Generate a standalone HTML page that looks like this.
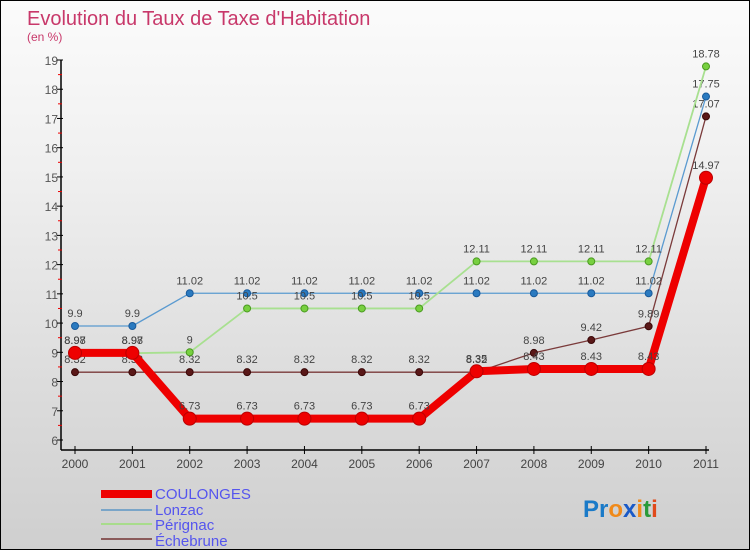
<!DOCTYPE html>
<html><head><meta charset="utf-8"><style>
html,body{margin:0;padding:0}
body{width:750px;height:550px;overflow:hidden;font-family:"Liberation Sans",sans-serif}
#wrap{position:relative;width:748px;height:548px;border:1px solid #000;background:linear-gradient(#fbfbfb,#f0f0f0 30%,#dcdcdc 70%,#cfcfcf)}
</style></head><body>
<div id="wrap">
<svg id="chart" width="748" height="548">
<text x="26" y="24" font-size="20" fill="#c8386a">Evolution du Taux de Taxe d'Habitation</text>
<text x="26" y="40" font-size="12" fill="#c8386a">(en %)</text>
<g id="axes"></g><g id="series"></g>
<g>
<rect x="100" y="489" width="51" height="8" fill="#e00"/>
<text x="154" y="498" font-size="15" fill="#5555ee">COULONGES</text>
<rect x="100" y="508" width="51" height="2" fill="#7aa5c8"/>
<text x="154" y="514" font-size="15" fill="#5555ee">Lonzac</text>
<rect x="100" y="522" width="51" height="2" fill="#a8dc8c"/>
<text x="154" y="529" font-size="15" fill="#5555ee">Pérignac</text>
<rect x="100" y="537" width="51" height="2" fill="#8a5a5a"/>
<text x="154" y="545" font-size="15" fill="#5555ee">Échebrune</text>
</g>
<text x="582" y="516" font-size="24" font-weight="bold"><tspan fill="#1a7ac8">Pr</tspan><tspan fill="#f08a1a">o</tspan><tspan fill="#1a5ac8">x</tspan><tspan fill="#f08a1a">i</tspan><tspan fill="#2a9a3a">t</tspan><tspan fill="#e04a1a">i</tspan></text>
</svg></div>
<script>
const years=["2000","2001","2002","2003","2004","2005","2006","2007","2008","2009","2010","2011"];
const yTicks=[6,7,8,9,10,11,12,13,14,15,16,17,18,19];
const coulonges=[8.98,8.98,6.73,6.73,6.73,6.73,6.73,8.35,8.43,8.43,8.43,14.97];
const lonzac=[9.9,9.9,11.02,11.02,11.02,11.02,11.02,11.02,11.02,11.02,11.02,17.75];
const perignac=[8.97,8.97,9,10.5,10.5,10.5,10.5,12.11,12.11,12.11,12.11,18.78];
const echebrune=[8.32,8.32,8.32,8.32,8.32,8.32,8.32,8.32,8.98,9.42,9.89,17.07];
const NS="http://www.w3.org/2000/svg";
const X=i=>74+i*(631/11);
const Y=v=>439-(v-6)*(380/13);
function mk(t,a,p){const e=document.createElementNS(NS,t);for(const k in a)e.setAttribute(k,a[k]);p.appendChild(e);return e;}
const axes=document.getElementById('axes');
mk('line',{x1:60,y1:59,x2:60,y2:449,stroke:'#000','stroke-width':1.5},axes);
mk('line',{x1:60,y1:449,x2:708,y2:449,stroke:'#000','stroke-width':1.5},axes);
yTicks.forEach(v=>{
 const t=mk('text',{x:57,y:Y(v)+5,'font-size':12,fill:'#555','text-anchor':'end'},axes);t.textContent=v;
 
 
 mk('line',{x1:56,y1:Y(v),x2:62,y2:Y(v),stroke:'#000'},axes);
 if(v<19)mk('line',{x1:57,y1:Y(v+0.5),x2:61,y2:Y(v+0.5),stroke:'#e00'},axes);
});
years.forEach((y,i)=>{
 mk('line',{x1:X(i),y1:445,x2:X(i),y2:453,stroke:'#000'},axes);
 const t=mk('text',{x:X(i),y:467,'font-size':12,fill:'#444','text-anchor':'middle'},axes);t.textContent=y;
 
 
});
const sg=document.getElementById('series');
function series(vals,color,w,r,name,fill,stroke){
 const g=mk('g',{},sg);
 
 
 mk('polyline',{points:vals.map((v,i)=>X(i)+','+Y(v)).join(' '),fill:'none',stroke:color,'stroke-width':w,'stroke-linejoin':'round'},g);
 vals.forEach((v,i)=>{
  const c=mk('circle',{cx:X(i),cy:Y(v),r:r,fill:fill,stroke:stroke,'stroke-width':1},g);
  
  
  const t=mk('text',{x:X(i),y:Y(v)-9,'font-size':11,fill:'#444','text-anchor':'middle'},g);t.textContent=v;
  
  
 });
}
series(echebrune,'#7a3a3a',1.3,3.5,'echebrune-line','#5a1818','#3a0808');
series(lonzac,'#5a9ad0',1.3,3.5,'lonzac-line','#2a7ac0','#1a5a9a');
series(perignac,'#a8e090',1.8,3.5,'perignac-line','#78d040','#4a9a20');
series(coulonges,'#ee0000',8,6.5,'coulonges-line','#ee0000','#b00');
</script>
</body></html>
